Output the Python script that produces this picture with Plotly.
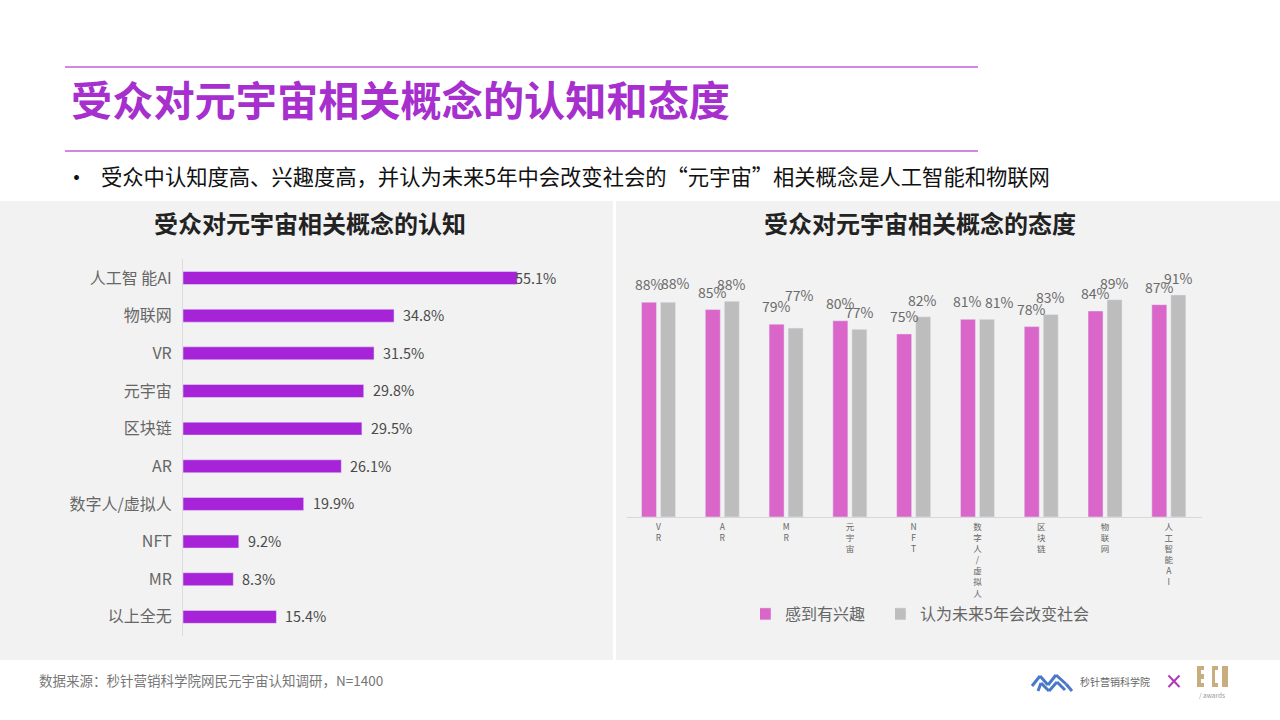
import plotly.graph_objects as go

# ---- data ----
aware_labels = ["人工智 能AI", "物联网", "VR", "元宇宙", "区块链", "AR", "数字人/虚拟人", "NFT", "MR", "以上全无"]
aware_values = [55.1, 34.8, 31.5, 29.8, 29.5, 26.1, 19.9, 9.2, 8.3, 15.4]

attitude_labels = ["VR", "AR", "MR", "元宇宙", "NFT", "数字人/虚拟人", "区块链", "物联网", "人工智 能AI"]
interest_values = [88, 85, 79, 80.4, 75, 81, 78, 84.4, 87]
change_values = [88, 88.4, 77.4, 76.9, 82, 81, 83, 89, 91]

W, H = 1280, 720
FONT = "Noto Sans CJK SC"
PURPLE = "#a623d8"
PINK = "#d966c8"
GRAY = "#bdbdbd"
RULE = "#c55fdc"


def px(x):
    return x / W


def py(y):
    return 1 - y / H


fig = go.Figure()

# Left chart
fig.add_trace(go.Bar(
    x=aware_values, y=aware_labels, orientation="h", xaxis="x", yaxis="y", width=0.345,
    marker=dict(color=PURPLE), showlegend=False, hoverinfo="x+y",
))

# Right chart
fig.add_trace(go.Bar(
    x=attitude_labels, y=interest_values, name="感到有兴趣", xaxis="x2", yaxis="y2",
    marker=dict(color=PINK), legend="legend",
))
fig.add_trace(go.Bar(
    x=attitude_labels, y=change_values, name="认为未来5年会改变社会", xaxis="x2", yaxis="y2",
    marker=dict(color=GRAY), legend="legend2",
))

annotations = []


def text(x, y, s, size, color, bold=False, anchor="left"):
    annotations.append(dict(
        xref="paper", yref="paper", x=px(x), y=py(y), text=f"<b>{s}</b>" if bold else s,
        showarrow=False, xanchor=anchor, yanchor="middle",
        font=dict(family=FONT, size=size, color=color),
    ))


text(69, 98, "受众对元宇宙相关概念的认知和态度", 41.2, "#a62fce", bold=True)
text(63, 176, "•", 23, "#111111")
text(99, 175, "受众中认知度高、兴趣度高，并认为未来5年中会改变社会的“元宇宙”相关概念是人工智能和物联网", 21.3, "#111111")
text(310, 222, "受众对元宇宙相关概念的认知", 24, "#222222", bold=True, anchor="center")
text(920, 222, "受众对元宇宙相关概念的态度", 24, "#222222", bold=True, anchor="center")
text(37, 680, "数据来源：秒针营销科学院网民元宇宙认知调研，N=1400", 13.5, "#777777")
text(1078, 681, "秒针营销科学院", 10, "#666666")
text(1212, 695, "/ awards", 6.5, "#999999", anchor="center")

# left value labels
for i, (lab, v) in enumerate(zip(aware_labels, aware_values)):
    annotations.append(dict(
        xref="x", yref="y", x=v, y=lab, text=f"{v:.1f}%", showarrow=False,
        xanchor="left", yanchor="middle", xshift=-4 if i == 0 else 7, yshift=1,
        font=dict(family=FONT, size=14.4, color="#4a4a4a"),
    ))

# right value labels: the source's labels sit in hand-nudged places
gray_nudge_x = [7.5, 0, 4, 0, -1, 13, 0, 0, 0]
gray_nudge_y = [2, 0, 16, 0, 0, 0, 0, 0, 0]
for lab, a, b, nx, ny in zip(attitude_labels, interest_values, change_values, gray_nudge_x, gray_nudge_y):
    annotations.append(dict(
        xref="x2", yref="y2", x=lab, y=a, text=f"{a:.0f}%", showarrow=False,
        xanchor="center", yanchor="middle", xshift=-9.5, yshift=18,
        font=dict(family=FONT, size=14, color="#6a6a6a"),
    ))
    annotations.append(dict(
        xref="x2", yref="y2", x=lab, y=b, text=f"{b:.0f}%", showarrow=False,
        xanchor="center", yanchor="middle", xshift=9.5 + nx, yshift=17 + ny,
        font=dict(family=FONT, size=14, color="#6a6a6a"),
    ))

shapes = []


def rect(x0, y0, x1, y1, color):
    shapes.append(dict(type="rect", xref="paper", yref="paper", x0=px(x0), x1=px(x1), y0=py(y0), y1=py(y1),
                       fillcolor=color, line=dict(width=0), layer="below"))


def line(pts, color, width):
    for (x0, y0), (x1, y1) in zip(pts, pts[1:]):
        shapes.append(dict(type="line", xref="paper", yref="paper", x0=px(x0), x1=px(x1), y0=py(y0), y1=py(y1),
                           line=dict(color=color, width=width), layer="above"))


rect(0, 201, 613, 660, "#f2f2f2")
rect(616, 201, 1280, 660, "#f2f2f2")
line([(65, 67), (978, 67)], RULE, 1.5)
line([(65, 151), (978, 151)], RULE, 1.5)

# logo marks
LOGO = "#4a78c8"
line([(1032, 686), (1040, 676), (1048, 685), (1056, 675), (1066, 684), (1072, 691)], LOGO, 3)
line([(1038, 691), (1041, 683), (1049, 691), (1057, 682), (1065, 690)], LOGO, 3)
line([(1168.5, 675.5), (1179.5, 687)], "#b03ab8", 2)
line([(1179.5, 675.5), (1168.5, 687)], "#b03ab8", 2)
GOLD = "#c8ad7f"
rect(1197, 666, 1204, 687, GOLD)
rect(1212, 666, 1218, 687, GOLD)
rect(1222, 666, 1228, 687, GOLD)
rect(1201, 670, 1204, 674, "white")
rect(1201, 679, 1204, 683, "white")
rect(1215, 670, 1218, 683, "white")

legend_style = dict(orientation="h", yanchor="middle", xanchor="left", y=py(614),
                    bgcolor="rgba(0,0,0,0)", indentation=-15, itemwidth=30,
                    font=dict(family=FONT, size=16, color="#666666"))

fig.update_layout(
    width=W, height=H, margin=dict(l=0, r=0, t=0, b=0, pad=0), autosize=False,
    paper_bgcolor="white", plot_bgcolor="rgba(0,0,0,0)",
    font=dict(family=FONT),
    barmode="group", bargap=0.404, bargroupgap=0.21,
    xaxis=dict(domain=[px(183), px(560)], range=[0, 62.16], visible=False, anchor="y"),
    yaxis=dict(domain=[py(635.7), py(259.2)], autorange="reversed", anchor="x", type="category",
               showgrid=False, showline=True, linecolor="#dcdcdc", linewidth=1, ticks="",
               ticklabelstandoff=7, tickfont=dict(family=FONT, size=16, color="#666666")),
    xaxis2=dict(domain=[px(627), px(1202)], range=[-0.494, 8.52], anchor="y2", type="category",
                showgrid=False, showline=True, linecolor="#d8d8d8", linewidth=1, ticks="",
                tickmode="array", tickvals=attitude_labels,
                ticktext=["<br>".join(s.replace(" ", "")) for s in attitude_labels],
                ticklabelstandoff=2,
                tickangle=0, tickfont=dict(family=FONT, size=8.5, color="#666666")),
    yaxis2=dict(domain=[py(517), py(270)], range=[0, 101.2], visible=False, anchor="x2"),
    legend=dict(x=px(760), **legend_style),
    legend2=dict(x=px(895), **legend_style),
    annotations=annotations, shapes=shapes,
)

fig.write_html("out.html", post_script="document.body.style.margin='0';",
               config={"displayModeBar": False})
